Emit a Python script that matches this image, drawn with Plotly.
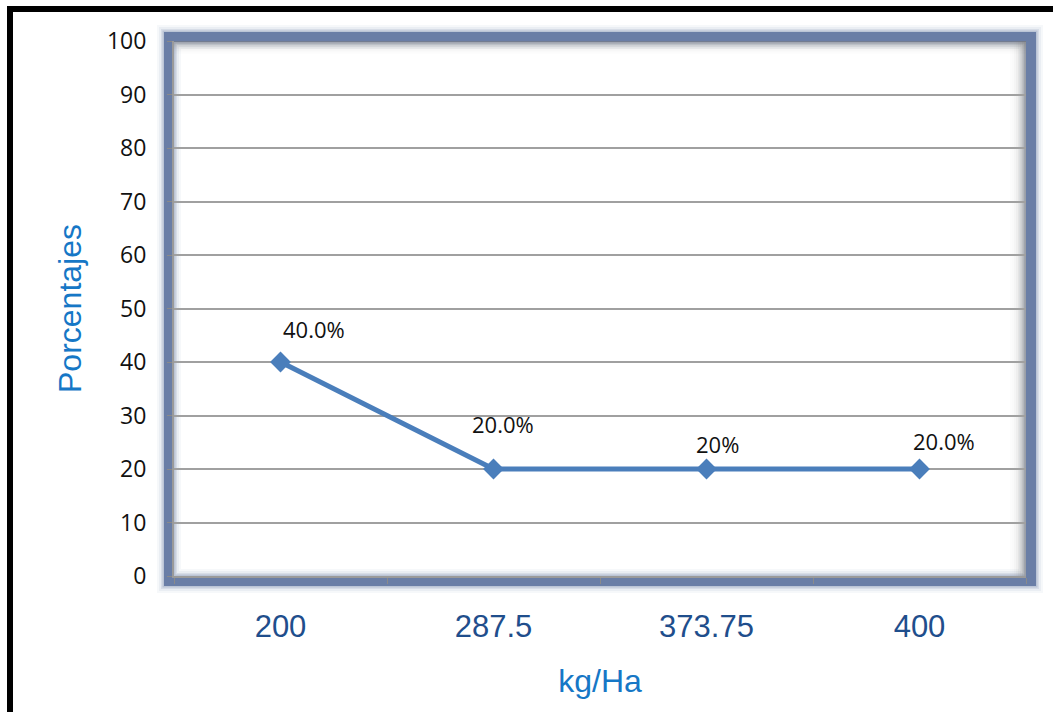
import plotly.graph_objects as go

# Dosis de fertilizante (kg/Ha) y porcentaje observado
dosis = ["200", "287.5", "373.75", "400"]
porcentajes = [40, 20, 20, 20]
etiquetas = ["40.0%", "20.0%", "20%", "20.0%"]
y_ticks = [0, 10, 20, 30, 40, 50, 60, 70, 80, 90, 100]

W, H = 1053, 712
L, R, T, B = 174, 27, 41, 136
PW, PH = W - L - R, H - T - B


def px(x):
    return (x - L) / PW


def py(y):
    return 1 - (y - T) / PH


fig = go.Figure()
fig.add_trace(go.Scatter(
    x=dosis, y=porcentajes, mode="lines+markers",
    line=dict(color="#4a7ebb", width=5),
    marker=dict(symbol="diamond", size=16, color="#4a7ebb"),
    showlegend=False, hoverinfo="skip",
))

# Data labels above each point (x given as category index)
offsets = [(33, 33), (9, 45), (11, 25), (24, 28)]
for i, (yv, txt, (dx, dy)) in enumerate(zip(porcentajes, etiquetas, offsets)):
    fig.add_annotation(x=i, y=yv, xref="x", yref="y", text=txt, showarrow=False,
                       xshift=dx, yshift=dy,
                       font=dict(family="Open Sans", size=22, color="#111111"))

shapes = []
fx0, fx1, fy0, fy1 = px(L - 5), px(W - R + 5), py(H - B + 5), py(T - 4)
# Soft glow around the plot frame
for w, op in [(24, 0.05), (20, 0.08), (16, 0.14), (13, 0.25)]:
    shapes.append(dict(type="rect", xref="paper", yref="paper",
                       x0=fx0, x1=fx1, y0=fy0, y1=fy1,
                       line=dict(color="#6b7fa6", width=w), opacity=op, layer="below"))
# Main frame
shapes.append(dict(type="rect", xref="paper", yref="paper",
                   x0=fx0, x1=fx1, y0=fy0, y1=fy1,
                   line=dict(color="#6a7ea6", width=10), layer="below"))
# Inner shading at top and right edges of the plot area
for i, op in enumerate([0.5, 0.38, 0.28, 0.2, 0.13, 0.08, 0.04, 0.02]):
    shapes.append(dict(type="rect", xref="paper", yref="paper",
                       x0=px(W - R - 2 * (i + 1)), x1=px(W - R - 2 * i), y0=0, y1=1,
                       fillcolor="#7a7a7a", line=dict(width=0), opacity=op, layer="below"))
    shapes.append(dict(type="rect", xref="paper", yref="paper",
                       x0=0, x1=1, y0=py(T + 1.6 * (i + 1)), y1=py(T + 1.6 * i),
                       fillcolor="#7a7a7a", line=dict(width=0), opacity=op, layer="below"))
# Outer black border of the chart
shapes.append(dict(type="rect", xref="paper", yref="paper",
                   x0=px(10), x1=px(W + 20), y0=py(H + 20), y1=py(9),
                   line=dict(color="#000000", width=6)))

fig.update_layout(
    width=W, height=H,
    margin=dict(l=L, r=R, t=T, b=B),
    paper_bgcolor="white", plot_bgcolor="rgba(255,255,255,0)",
    shapes=shapes,
    xaxis=dict(
        type="category", range=[-0.5, 3.5],
        tickson="boundaries", ticks="outside", ticklen=6, tickcolor="#8a8a8a",
        ticklabelstandoff=22,
        showgrid=False, showline=True, linecolor="#9a9a9a", linewidth=2,
        tickfont=dict(family="Liberation Sans, Arial", size=31, color="#1f4e8c"),
        title=dict(text="kg/Ha", standoff=26,
                   font=dict(family="Liberation Sans, Arial", size=32, color="#1677c6")),
        fixedrange=True,
    ),
    yaxis=dict(
        range=[0, 100], tickvals=y_ticks, ticks="outside", ticklen=5, tickcolor="#8a8a8a",
        ticklabelstandoff=16,
        showgrid=True, gridcolor="#a0a0a0", gridwidth=1.5,
        showline=True, linecolor="#9a9a9a", linewidth=2, zeroline=False,
        tickfont=dict(family="Open Sans", size=23, color="#111111"),
        title=dict(text="Porcentajes", standoff=16,
                   font=dict(family="Liberation Sans, Arial", size=32, color="#1677c6")),
        fixedrange=True,
    ),
)

fig.write_html("out.html")
